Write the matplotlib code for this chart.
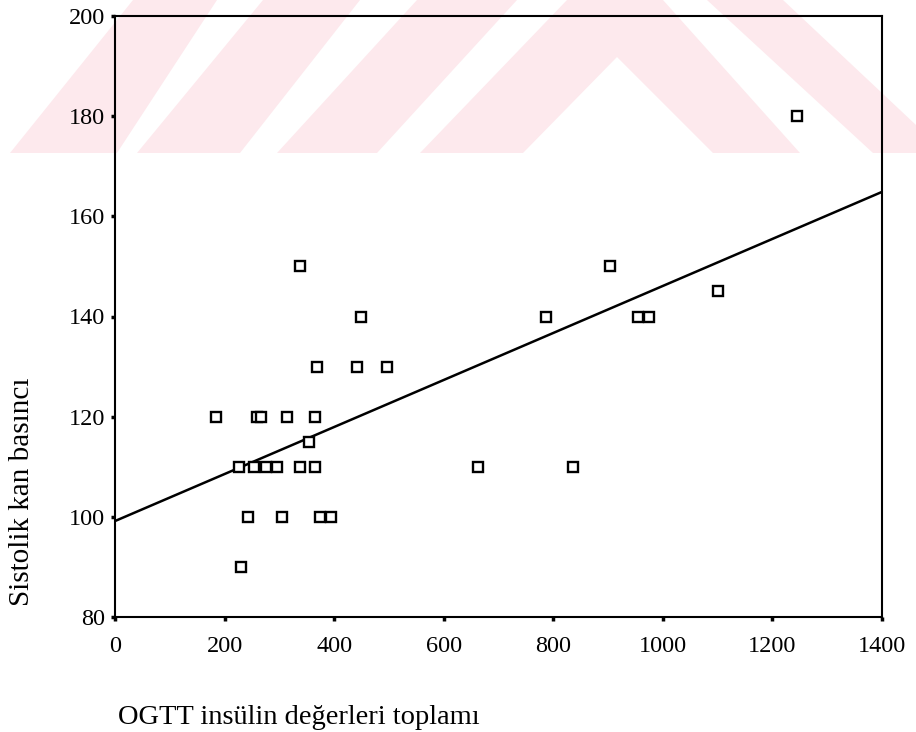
import numpy as np
import matplotlib
matplotlib.use('Agg')
import matplotlib.pyplot as plt
from matplotlib.patches import Polygon

# OGTT insülin toplamı ve sistolik kan basıncı
insulin = [1245, 338, 903, 449, 786, 954, 974, 1100, 368, 442, 497,
           184, 260, 266, 314, 365, 354,
           226, 254, 276, 295, 338, 365, 662, 836,
           243, 305, 374, 394, 230]
sistolik = [180, 150, 150, 140, 140, 140, 140, 145, 130, 130, 130,
            120, 120, 120, 120, 120, 115,
            110, 110, 110, 110, 110, 110, 110, 110,
            100, 100, 100, 100, 90]

x_ticks = [0, 200, 400, 600, 800, 1000, 1200, 1400]
y_ticks = [80, 100, 120, 140, 160, 180, 200]

W, H = 916, 732
plt.rcParams['font.family'] = ['Liberation Serif', 'DejaVu Serif']

fig = plt.figure(figsize=(W / 100, H / 100), dpi=100)

# arka plandaki pembe filigran (piksel koordinatlarında)
filigran = [
    [(10, 153), (117, 153), (217, 0), (133, 0)],
    [(137, 153), (240, 153), (360, 0), (263, 0)],
    [(277, 153), (377, 153), (517, 0), (417, 0)],
    [(420, 153), (567, 0), (663, 0), (800, 153), (713, 153), (617, 57), (523, 153)],
    [(707, 0), (783, 0), (916, 125), (916, 153), (873, 153)],
]
for poly in filigran:
    pts = [(px / W, 1 - py / H) for px, py in poly]
    fig.patches.append(Polygon(pts, closed=True, transform=fig.transFigure,
                               facecolor='#fde9ed', edgecolor='none', zorder=-10))

ax = fig.add_axes([115 / W, 1 - 617 / H, (882 - 115) / W, (617 - 16) / H])
ax.set_facecolor('none')
ax.set_zorder(1)

ax.plot(insulin, sistolik, linestyle='none', marker='s', markersize=6.5,
        markerfacecolor='white', markeredgecolor='black', markeredgewidth=1.7,
        zorder=3)

# doğrusal regresyon çizgisi
b, a = np.polyfit(insulin, sistolik, 1)
xs = np.array([0, 1400])
ax.plot(xs, a + b * xs, color='black', linewidth=1.8, zorder=2)

ax.set_xlim(0, 1400)
ax.set_ylim(80, 200)
ax.set_xticks(x_ticks)
ax.set_yticks(y_ticks)
ax.tick_params(axis='both', direction='out', length=3, width=2.5,
               labelsize=17.5, color='black')
ax.tick_params(axis='x', pad=11)
ax.tick_params(axis='y', pad=4)
for s in ax.spines.values():
    s.set_linewidth(1.5)

fig.text(118 / W, 1 - 718 / H, 'OGTT insülin değerleri toplamı',
         fontsize=20.5, ha='left', va='center')
fig.text(22 / W, 1 - 492 / H, 'Sistolik kan basıncı',
         fontsize=21, rotation=90, ha='center', va='center')

fig.savefig('out.png', dpi=100)
